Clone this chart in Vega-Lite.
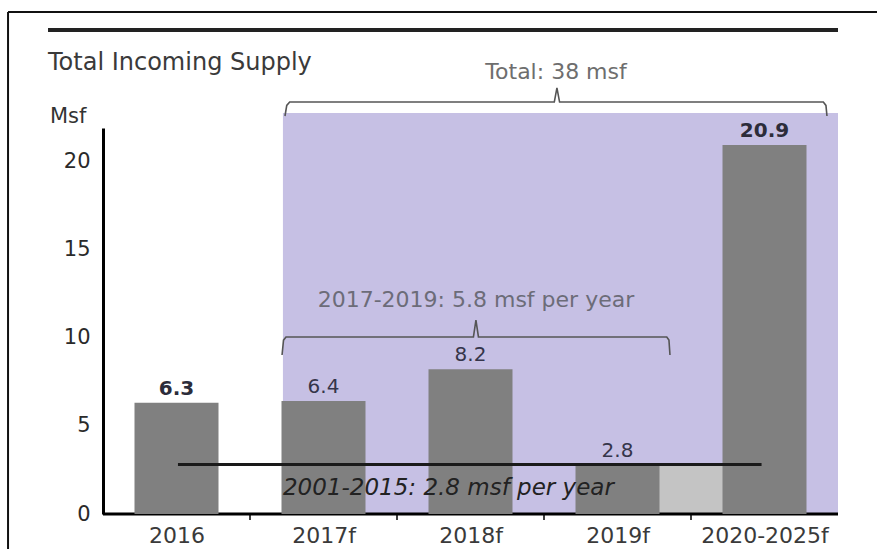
{
  "$schema": "https://vega.github.io/schema/vega-lite/v6.json",
  "width": 735,
  "height": 386,
  "autosize": {"type": "none"},
  "padding": {"left": 103, "top": 128, "right": 39, "bottom": 35},
  "background": "white",
  "config": {"font": "DejaVu Sans", "view": {"stroke": null}},
  "data": {"values": [{}]},
  "datasets": {
    "supply": [
      {"period": "2016", "slot": 0.5, "msf": 6.3},
      {"period": "2017f", "slot": 1.5, "msf": 6.4},
      {"period": "2018f", "slot": 2.5, "msf": 8.2},
      {"period": "2019f", "slot": 3.5, "msf": 2.8},
      {"period": "2020-2025f", "slot": 4.5, "msf": 20.9}
    ],
    "edges": [{"edge": 1}, {"edge": 2}, {"edge": 3}, {"edge": 4}],
    "brackets": [
      {"bracket": "total", "seq": 1, "x": 1.238, "y": 22.55},
      {"bracket": "total", "seq": 2, "x": 1.25, "y": 23.15},
      {"bracket": "total", "seq": 3, "x": 1.27, "y": 23.34},
      {"bracket": "total", "seq": 4, "x": 3.07, "y": 23.34},
      {"bracket": "total", "seq": 5, "x": 3.088, "y": 24.14},
      {"bracket": "total", "seq": 6, "x": 3.106, "y": 23.34},
      {"bracket": "total", "seq": 7, "x": 4.9, "y": 23.34},
      {"bracket": "total", "seq": 8, "x": 4.918, "y": 23.15},
      {"bracket": "total", "seq": 9, "x": 4.925, "y": 22.55},
      {"bracket": "avg", "seq": 1, "x": 1.218, "y": 9.01},
      {"bracket": "avg", "seq": 2, "x": 1.228, "y": 9.85},
      {"bracket": "avg", "seq": 3, "x": 1.245, "y": 10.03},
      {"bracket": "avg", "seq": 4, "x": 2.52, "y": 10.03},
      {"bracket": "avg", "seq": 5, "x": 2.537, "y": 10.99},
      {"bracket": "avg", "seq": 6, "x": 2.554, "y": 10.03},
      {"bracket": "avg", "seq": 7, "x": 3.835, "y": 10.03},
      {"bracket": "avg", "seq": 8, "x": 3.85, "y": 9.85},
      {"bracket": "avg", "seq": 9, "x": 3.857, "y": 9.01}
    ]
  },
  "resolve": {"axis": {"x": "independent", "y": "independent"}},
  "layer": [
    {
      "mark": {"type": "rule", "color": "#111111", "strokeWidth": 2},
      "encoding": {
        "x": {"datum": -0.646, "type": "quantitative", "axis": null},
        "y": {"datum": -3, "type": "quantitative", "axis": null},
        "y2": {"datum": 28.44}
      }
    },
    {
      "mark": {"type": "rule", "color": "#111111", "strokeWidth": 2},
      "encoding": {
        "x": {"datum": -0.646, "type": "quantitative", "axis": null},
        "x2": {"datum": 5.6},
        "y": {"datum": 28.44, "type": "quantitative", "axis": null}
      }
    },
    {
      "mark": {"type": "rule", "color": "#222222", "strokeWidth": 4},
      "encoding": {
        "x": {"datum": -0.374, "type": "quantitative", "axis": null},
        "x2": {"datum": 5.0},
        "y": {"datum": 27.42, "type": "quantitative", "axis": null}
      }
    },
    {
      "mark": {"type": "rect", "color": "#c6c0e4"},
      "encoding": {
        "x": {"datum": 1.224, "type": "quantitative", "axis": null},
        "x2": {"datum": 5.0},
        "y": {"datum": 0, "type": "quantitative", "axis": null},
        "y2": {"datum": 22.72}
      }
    },
    {
      "mark": {"type": "rect", "color": "#c4c4c4"},
      "encoding": {
        "x": {"datum": 3.76, "type": "quantitative", "axis": null},
        "x2": {"datum": 4.22},
        "y": {"datum": 0, "type": "quantitative", "axis": null},
        "y2": {"datum": 2.75}
      }
    },
    {
      "mark": {"type": "rule", "color": "#000000", "strokeWidth": 3},
      "encoding": {
        "x": {"datum": 0, "type": "quantitative", "axis": null},
        "x2": {"datum": 5.0},
        "y": {"datum": 0, "type": "quantitative", "axis": null}
      }
    },
    {
      "data": {"name": "edges"},
      "mark": {"type": "rule", "color": "#000000", "strokeWidth": 1.5},
      "encoding": {
        "x": {"field": "edge", "type": "quantitative", "axis": null},
        "y": {"datum": 0, "type": "quantitative", "axis": null},
        "y2": {"datum": -0.34}
      }
    },
    {
      "data": {"name": "supply"},
      "mark": {"type": "bar", "orient": "vertical", "width": 84, "color": "#808080"},
      "encoding": {
        "x": {
          "field": "slot",
          "type": "quantitative",
          "scale": {"domain": [0, 5], "nice": false, "zero": false, "padding": 0},
          "axis": {
            "values": [0.5, 1.5, 2.5, 3.5, 4.5],
            "labelExpr": "['2016','2017f','2018f','2019f','2020-2025f'][floor(datum.value)]",
            "title": null,
            "grid": false,
            "domain": false,
            "ticks": false,
            "tickSize": 0,
            "labelPadding": 11,
            "labelFontSize": 22,
            "labelColor": "#3a3a3a",
            "labelFlush": false,
            "labelOverlap": false
          }
        },
        "y": {
          "field": "msf",
          "type": "quantitative",
          "scale": {"domain": [0, 21.87], "nice": false, "zero": false, "padding": 0},
          "axis": {
            "values": [0, 5, 10, 15, 20],
            "title": null,
            "grid": false,
            "ticks": false,
            "tickSize": 0,
            "domainColor": "#000000",
            "domainWidth": 3,
            "labelPadding": 13,
            "labelFontSize": 21,
            "labelColor": "#2a2a2a",
            "labelFlush": false
          }
        }
      }
    },
    {
      "data": {"name": "supply"},
      "transform": [{"filter": {"field": "period", "oneOf": ["2017f", "2018f", "2019f"]}}],
      "mark": {"type": "text", "baseline": "alphabetic", "dy": -8, "fontSize": 20, "color": "#35354a"},
      "encoding": {
        "x": {"field": "slot", "type": "quantitative", "axis": null},
        "y": {"field": "msf", "type": "quantitative", "axis": null},
        "text": {"field": "msf", "type": "quantitative", "format": ".1f"}
      }
    },
    {
      "data": {"name": "supply"},
      "transform": [{"filter": {"field": "period", "oneOf": ["2016", "2020-2025f"]}}],
      "mark": {"type": "text", "baseline": "alphabetic", "dy": -8, "fontSize": 20, "fontWeight": "bold", "color": "#2c2c3a"},
      "encoding": {
        "x": {"field": "slot", "type": "quantitative", "axis": null},
        "y": {"field": "msf", "type": "quantitative", "axis": null},
        "text": {"field": "msf", "type": "quantitative", "format": ".1f"}
      }
    },
    {
      "mark": {"type": "rule", "color": "#1a1a1a", "strokeWidth": 3},
      "encoding": {
        "x": {"datum": 0.51, "type": "quantitative", "axis": null},
        "x2": {"datum": 4.48},
        "y": {"datum": 2.8, "type": "quantitative", "axis": null}
      }
    },
    {
      "mark": {"type": "text", "text": "2001-2015: 2.8 msf per year", "fontStyle": "italic", "fontSize": 23, "color": "#222222", "align": "center", "baseline": "middle"},
      "encoding": {
        "x": {"datum": 2.35, "type": "quantitative", "axis": null},
        "y": {"datum": 1.47, "type": "quantitative", "axis": null}
      }
    },
    {
      "data": {"name": "brackets"},
      "mark": {"type": "line", "color": "#555555", "strokeWidth": 1.6},
      "encoding": {
        "x": {"field": "x", "type": "quantitative", "axis": null},
        "y": {"field": "y", "type": "quantitative", "axis": null},
        "detail": {"field": "bracket"},
        "order": {"field": "seq"}
      }
    },
    {
      "mark": {"type": "text", "text": "Total Incoming Supply", "fontSize": 24, "color": "#3a3a3a", "align": "left", "baseline": "middle"},
      "encoding": {
        "x": {"datum": -0.374, "type": "quantitative", "axis": null},
        "y": {"datum": 25.55, "type": "quantitative", "axis": null}
      }
    },
    {
      "mark": {"type": "text", "text": "Msf", "fontSize": 21, "color": "#333333", "align": "left", "baseline": "middle"},
      "encoding": {
        "x": {"datum": -0.361, "type": "quantitative", "axis": null},
        "y": {"datum": 22.49, "type": "quantitative", "axis": null}
      }
    },
    {
      "mark": {"type": "text", "text": "Total: 38 msf", "fontSize": 22, "color": "#6e6e6e", "align": "center", "baseline": "middle"},
      "encoding": {
        "x": {"datum": 3.082, "type": "quantitative", "axis": null},
        "y": {"datum": 25.04, "type": "quantitative", "axis": null}
      }
    },
    {
      "mark": {"type": "text", "text": "2017-2019: 5.8 msf per year", "fontSize": 22, "color": "#6c6c78", "align": "center", "baseline": "middle"},
      "encoding": {
        "x": {"datum": 2.537, "type": "quantitative", "axis": null},
        "y": {"datum": 12.12, "type": "quantitative", "axis": null}
      }
    }
  ]
}
